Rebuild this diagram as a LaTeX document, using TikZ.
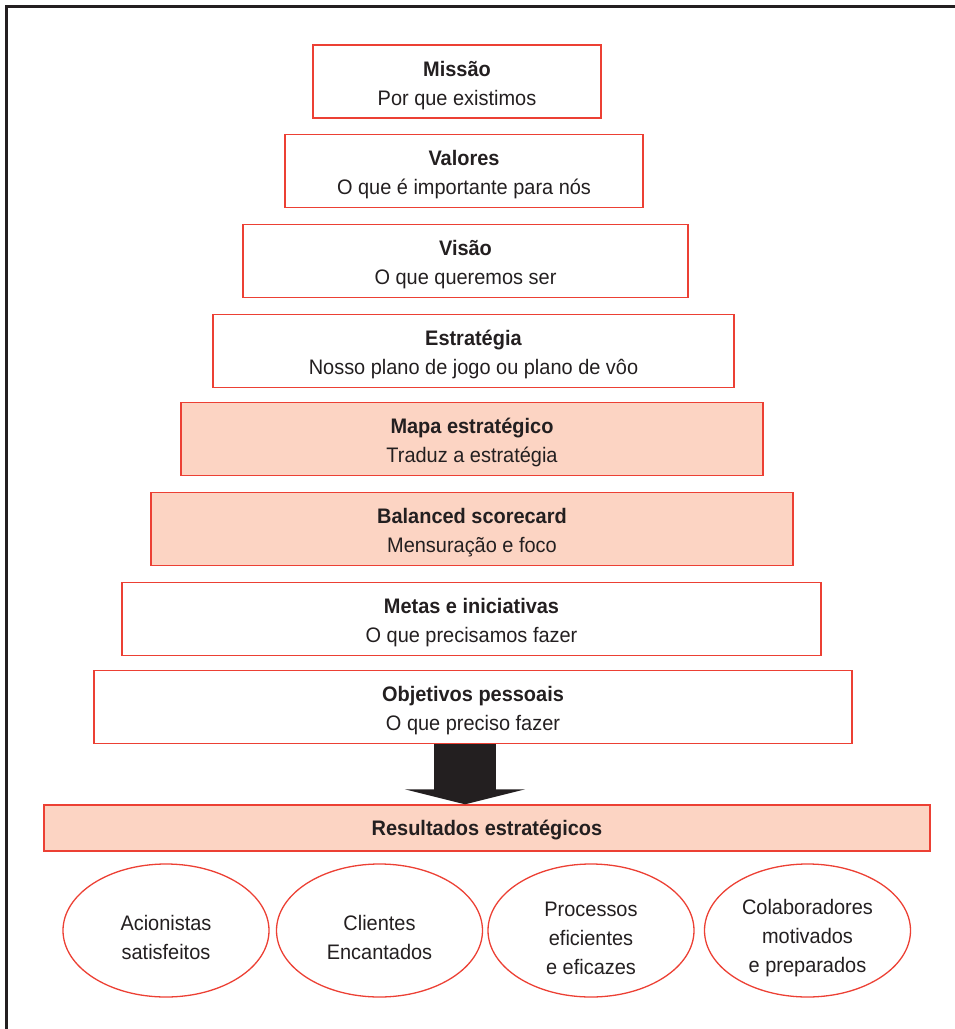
\documentclass[tikz,border=0pt]{standalone}
\usepackage{fontspec}
\setmainfont{Liberation Sans}[FakeStretch=0.95]
\usetikzlibrary{arrows.meta,shapes.geometric,calc}
\definecolor{boxred}{RGB}{236,64,52}
\definecolor{boxfill}{RGB}{252,212,195}
\definecolor{ink}{RGB}{35,31,32}
\newcommand\padtop[1]{\rule{0pt}{#1}}
\begin{document}
\begin{tikzpicture}[x=1pt,y=1pt,
  every node/.style={text=ink},
  tier/.style={draw=boxred,line width=1.4pt,minimum height=73pt,inner sep=0pt,align=center,
    font=\fontsize{21}{29}\selectfont},
  hl/.style={tier,fill=boxfill},
  goal/.style={ellipse,draw=boxred,line width=1.3pt,minimum width=206pt,minimum height=133pt,
    inner sep=0pt,align=center,font=\fontsize{21}{29}\selectfont},
  frame/.style={draw=ink,line width=3pt},
  bigarrow/.style={draw=ink,line width=62pt,-{Triangle[width=120pt,length=15pt]}}
]
\useasboundingbox (0,0) rectangle (955,-1029);
\draw[frame] (6.5,-1035) -- (6.5,-6.5) -- (960,-6.5);

\node[tier,minimum width=288pt] (missao) at (457,-81.5) {\padtop{23pt}\textbf{Missão}\\Por que existimos};
\node[tier,minimum width=358pt] (valores) at (464,-171) {\padtop{23pt}\textbf{Valores}\\O que é importante para nós};
\node[tier,minimum width=445pt] (visao) at (465.5,-261) {\padtop{23pt}\textbf{Visão}\\O que queremos ser};
\node[tier,minimum width=521pt] (estrategia) at (473.5,-351) {\padtop{23pt}\textbf{Estratégia}\\Nosso plano de jogo ou plano de vôo};
\node[hl,minimum width=582pt] (mapa) at (472,-439) {\padtop{23pt}\textbf{Mapa estratégico}\\Traduz a estratégia};
\node[hl,minimum width=642pt] (bsc) at (472,-529) {\padtop{23pt}\textbf{Balanced scorecard}\\Mensuração e foco};
\node[tier,minimum width=699pt] (metas) at (471.5,-619) {\padtop{23pt}\textbf{Metas e iniciativas}\\O que precisamos fazer};
\node[tier,minimum width=758pt] (objetivos) at (473,-707) {\padtop{23pt}\textbf{Objetivos pessoais}\\O que preciso fazer};
\node[hl,minimum width=886pt,minimum height=46pt] (resultados) at (487,-828) {\padtop{19pt}\textbf{Resultados estratégicos}};

\coordinate (ax) at (465,0);
\draw[bigarrow] (objetivos.south -| ax) -- (resultados.north -| ax);

\node[goal] (acionistas) at (166,-930.5) {\padtop{30pt}Acionistas\\satisfeitos};
\node[goal] (clientes) at (379.5,-930.5) {\padtop{30pt}Clientes\\Encantados};
\node[goal] (processos) at (591,-930.5) {\padtop{30pt}Processos\\eficientes\\e eficazes};
\node[goal] (colab) at (807.5,-930.5) {\padtop{30pt}Colaboradores\\motivados\\e preparados};
\end{tikzpicture}
\end{document}
